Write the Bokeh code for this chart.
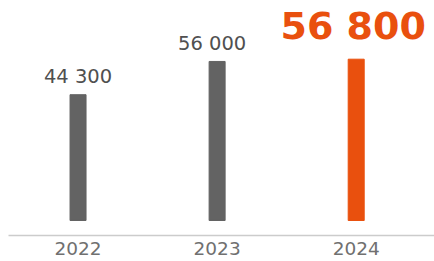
from bokeh.plotting import figure
from bokeh.models import Range1d, FixedTicker, ColumnDataSource
from bokeh.core.properties import value
from bokeh.embed import file_html
from bokeh.resources import INLINE

years = ["2022", "2023", "2024"]
values = [44300, 56000, 56800]
labels = ["44 300", "56 000", "56 800"]
colors = ["#636363", "#636363", "#E9500E"]

xs = list(range(len(years)))

p = figure(width=434, height=261, output_backend="svg", toolbar_location=None,
           x_range=Range1d(-0.5, 2.563), y_range=Range1d(-5282, 74648),
           min_border_left=8, min_border_right=0, min_border_top=8, min_border_bottom=26)
p.outline_line_color = None
p.grid.visible = False
p.yaxis.visible = False
p.background_fill_color = None
p.border_fill_color = None

src = ColumnDataSource(dict(x=xs, top=values, color=colors))
p.vbar(x="x", top="top", bottom=0, width=16 / 139, color="color", source=src)

# gray value labels
gsrc = ColumnDataSource(dict(x=xs[:2], y=values[:2], t=labels[:2], dx=[0, -5]))
p.text(x="x", y="y", text="t", source=gsrc, x_offset="dx",
       text_font=value("DejaVu Sans"), text_font_size="19.5px", text_color="#505050",
       text_align="center", text_baseline="alphabetic", y_offset=-18)
# highlight label
p.text(x=[xs[2]], y=[values[2]], text=[labels[2]], x_offset=-3,
       text_font=value("DejaVu Sans"), text_font_size="38px", text_font_style="bold",
       text_color="#E9500E", text_align="center", text_baseline="alphabetic", y_offset=-33)

ax = p.xaxis[0]
ax.ticker = FixedTicker(ticks=xs)
ax.major_label_overrides = {i: y for i, y in zip(xs, years)}
ax.axis_line_color = "#CCCCCC"
ax.axis_line_width = 1.5
ax.major_tick_line_color = None
ax.minor_tick_line_color = None
ax.major_tick_out = 0
ax.major_tick_in = 0
ax.major_label_standoff = 6
ax.major_label_text_font = "DejaVu Sans"
ax.major_label_text_font_size = "18.5px"
ax.major_label_text_color = "#707070"

open("out.html", "w").write(file_html(p, INLINE))
